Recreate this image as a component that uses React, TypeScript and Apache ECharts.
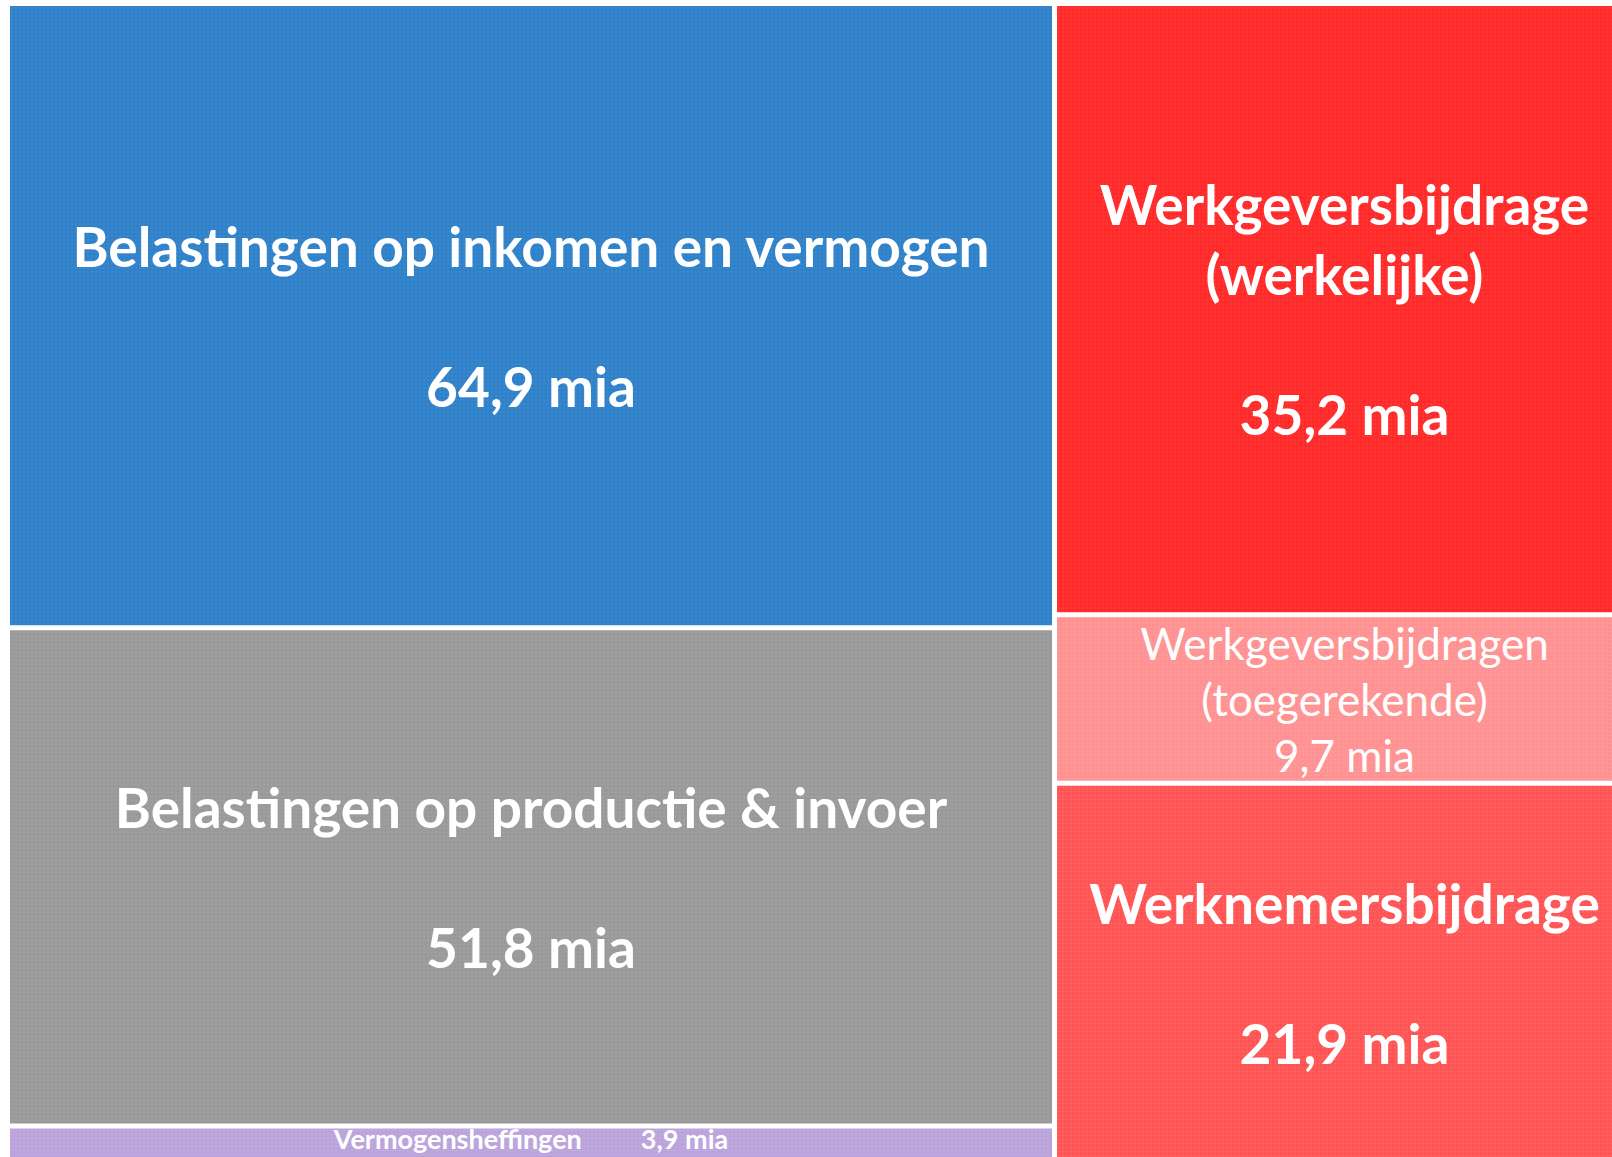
import React, { useEffect, useRef } from "react";
import * as echarts from "echarts";

// ---- data ----
const labels = [
  "Belastingen op inkomen en vermogen",
  "Belastingen op productie & invoer",
  "Vermogensheffingen",
  "Werkgeversbijdrage\n(werkelijke)",
  "Werkgeversbijdragen\n(toegerekende)",
  "Werknemersbijdrage",
];
const values = [64.9, 51.8, 3.9, 35.2, 9.7, 21.9];
const colors = ["#2f81c9", "#9a9a9a", "#bba4dc", "#ff2b2b", "#ff9292", "#ff5555"];
const labelKinds = ["big", "big", "strip", "big", "small", "big"];

const fmt = (v: number) => v.toFixed(1).replace(".", ",") + " mia";

function leaf(i: number) {
  const kind = labelKinds[i];
  let label: any;
  if (kind === "big") {
    label = {
      formatter: labels[i] + "\n\n" + fmt(values[i]),
      fontSize: 55,
      fontWeight: "bold",
      lineHeight: 70,
      padding: 0,
      verticalAlign: "middle",
    };
  } else if (kind === "small") {
    label = {
      formatter: labels[i] + "\n" + fmt(values[i]),
      fontSize: 44,
      fontWeight: "normal",
      lineHeight: 56,
      padding: [-8, 0, -8, 0],
      verticalAlign: "middle",
    };
  } else {
    label = {
      formatter: labels[i] + "         " + fmt(values[i]),
      fontSize: 27,
      fontWeight: "bold",
      lineHeight: 26,
      padding: 0,
      position: ["50%", -3],
      verticalAlign: "top",
    };
  }
  return {
    name: labels[i].replace("\n", " "),
    value: values[i],
    itemStyle: {
      color: colors[i],
      borderWidth: 2.5,
      borderColor: "#ffffff",
      decal: {
        symbol: "rect",
        symbolSize: 1,
        dashArrayX: [1, 3],
        dashArrayY: [1, 3],
        color: "rgba(255,255,255,0.25)",
      },
    },
    label: {
      show: true,
      color: "#ffffff",
      fontFamily: "Lato",
      align: "center",
      overflow: "none",
      ...label,
    },
  };
}

function group(children: any[]) {
  return {
    name: "",
    value: children.reduce((s, c) => s + c.value, 0),
    label: { show: false },
    children,
  };
}

export default function App() {
  const ref = useRef<HTMLDivElement>(null);
  useEffect(() => {
    if (!ref.current) return;
    const chart = echarts.init(ref.current, undefined, { renderer: "svg" });
    const leftCol = group([group([leaf(0), leaf(1)]), leaf(2)]);
    const rightCol = group([group([leaf(3), leaf(4)]), leaf(5)]);
    chart.setOption({
      animation: false,
      backgroundColor: "#ffffff",
      series: [
        {
          type: "treemap",
          left: 7.5,
          top: 3.5,
          width: 1627,
          height: 1160,
          squareRatio: 1,
          sort: "desc",
          roam: false,
          nodeClick: false,
          drillDownIcon: "",
          breadcrumb: { show: false },
          visibleMin: 0,
          itemStyle: { borderWidth: 0, gapWidth: 0 },
          upperLabel: { show: false },
          data: [leftCol, rightCol],
        },
      ],
    });
    return () => chart.dispose();
  }, []);
  return (
    <div
      ref={ref}
      style={{ position: "fixed", left: 0, top: 0, width: 1612, height: 1157 }}
    />
  );
}
